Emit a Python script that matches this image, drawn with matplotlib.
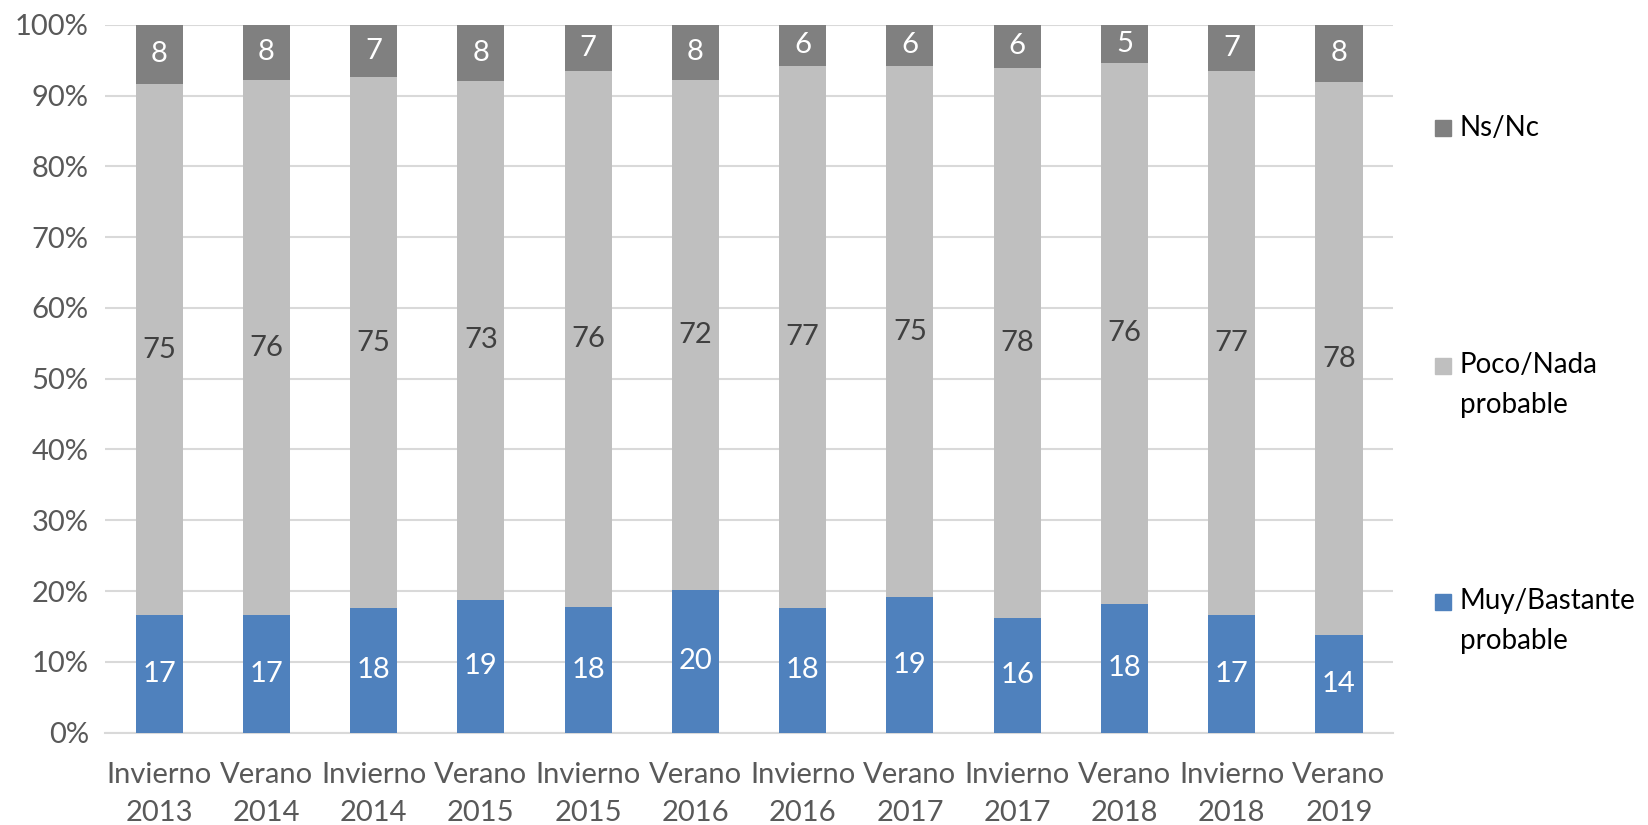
import matplotlib.pyplot as plt
import numpy as np
from matplotlib.patches import Rectangle

plt.rcParams['font.family'] = ['Lato', 'DejaVu Sans']

# periods of the survey
periodos = ['Invierno\n2013', 'Verano\n2014', 'Invierno\n2014', 'Verano\n2015',
            'Invierno\n2015', 'Verano\n2016', 'Invierno\n2016', 'Verano\n2017',
            'Invierno\n2017', 'Verano\n2018', 'Invierno\n2018', 'Verano\n2019']

# shares (%)
muy_bastante = [16.6, 16.6, 17.6, 18.7, 17.7, 20.1, 17.6, 19.1, 16.2, 18.2, 16.6, 13.8]
poco_nada = [75.0, 75.6, 75.0, 73.4, 75.7, 72.1, 76.6, 75.1, 77.7, 76.4, 76.8, 78.1]
ns_nc = [8.4, 7.8, 7.4, 7.9, 6.6, 7.8, 5.8, 5.8, 6.1, 5.4, 6.6, 8.1]

c_azul = '#4F81BD'
c_claro = '#BFBFBF'
c_oscuro = '#808080'
c_texto = '#595959'
fs = 21

W, H = 1648, 825
fig = plt.figure(figsize=(W / 100, H / 100), dpi=100)
ax = fig.add_axes([0.064, 0.112, 0.781, 0.858])

x = np.arange(len(periodos))
w = 0.44
b1 = ax.bar(x, muy_bastante, w, color=c_azul, zorder=3)
b2 = ax.bar(x, poco_nada, w, bottom=muy_bastante, color=c_claro, zorder=3)
b3 = ax.bar(x, ns_nc, w, bottom=np.add(muy_bastante, poco_nada), color=c_oscuro, zorder=3)

ax.bar_label(b1, fmt='%.0f', label_type='center', color='white', fontsize=fs)
ax.bar_label(b2, fmt='%.0f', label_type='center', color='#404040', fontsize=fs)
ax.bar_label(b3, fmt='%.0f', label_type='center', color='white', fontsize=fs)

ax.set_xlim(-0.5, len(periodos) - 0.5)
ax.set_ylim(0, 100)
ax.set_yticks(np.arange(0, 101, 10))
ax.set_yticklabels([f'{v}%' for v in range(0, 101, 10)])
ax.set_xticks(x)
ax.set_xticklabels(periodos, linespacing=1.6)
ax.tick_params(axis='both', length=0, labelsize=fs, colors=c_texto)
ax.tick_params(axis='x', pad=21)
ax.tick_params(axis='y', pad=12)

ax.grid(axis='y', color='#D9D9D9', linewidth=1.5, zorder=0)
for s in ['top', 'right', 'left']:
    ax.spines[s].set_visible(False)
ax.spines['bottom'].set_color('#D9D9D9')
ax.spines['bottom'].set_linewidth(1.5)

# leyenda a la derecha (cuadro alineado con la primera línea, como en Excel)
ley_colores = [c_oscuro, c_claro, c_azul]
ley_textos = ['Ns/Nc', 'Poco/Nada\nprobable', 'Muy/Bastante\nprobable']
ley_y = [128, 366, 602]  # px desde arriba, primera línea
sq = 16
for col, txt, py in zip(ley_colores, ley_textos, ley_y):
    fig.add_artist(Rectangle((1435 / W, 1 - (py + sq / 2) / H), sq / W, sq / H,
                             transform=fig.transFigure, color=col))
    n = txt.count('\n')
    fig.text(1460 / W, 1 - (py + n * 19) / H, txt, fontsize=20, va='center',
             ha='left', linespacing=1.65, color='black')

fig.savefig('out.png', dpi=100)
